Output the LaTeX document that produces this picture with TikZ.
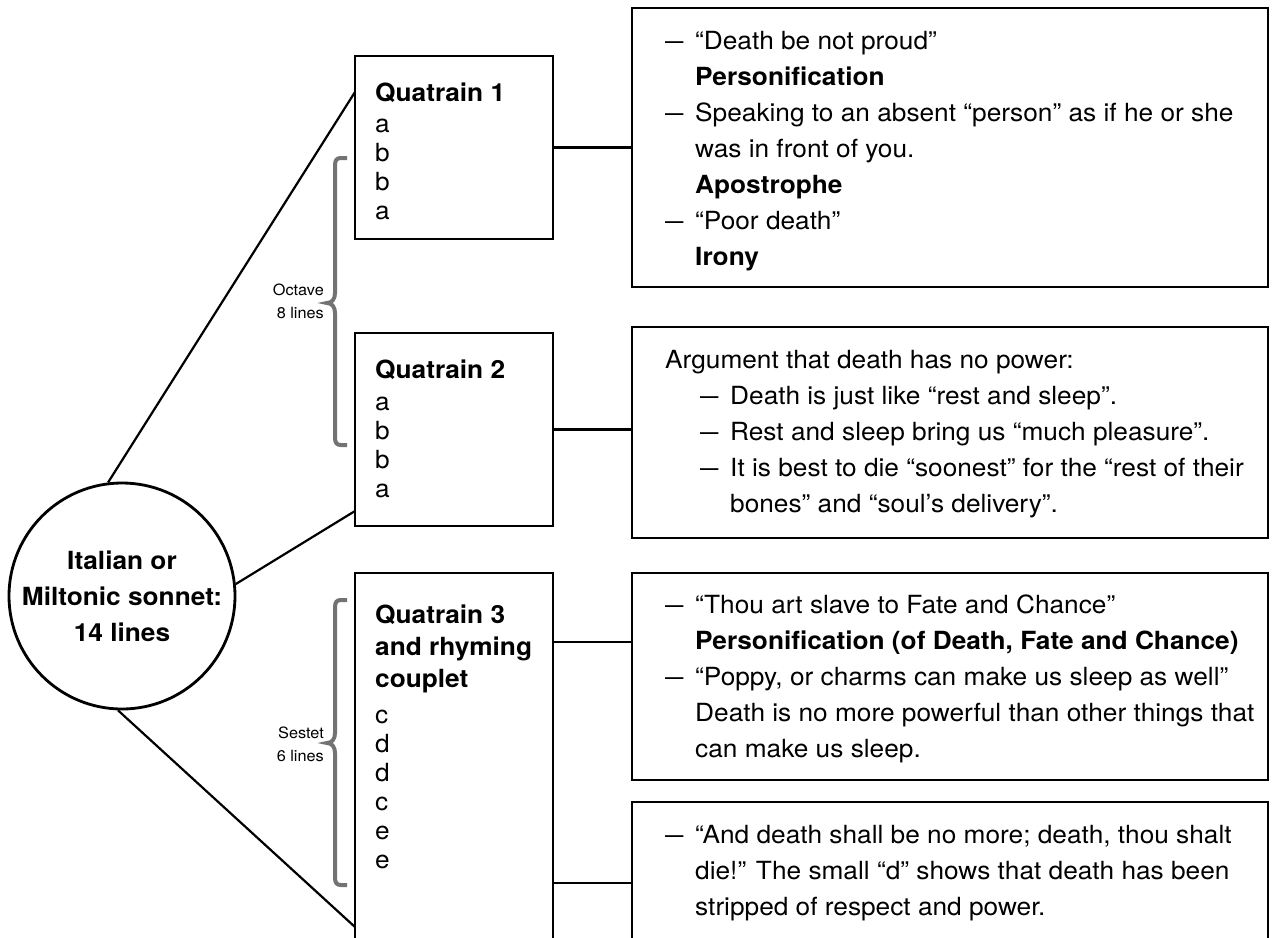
\documentclass[tikz,border=0pt]{standalone}
\usepackage{graphicx}
\usepackage{fontspec}
\setmainfont{TeX Gyre Heros}[FakeStretch=1.05]
\newcommand{\mydash}{\makebox[30pt][l]{\scalebox{0.7}[1]{—}}}
\newcommand{\myind}{\hspace*{30pt}}
\begin{document}
\begin{tikzpicture}[x=1pt,y=-1pt,
  box/.style={draw, line width=2.8pt, rectangle, inner sep=0pt},
  link/.style={line width=2.2pt},
  body/.style={anchor=north west, inner sep=0pt, align=left, font=\fontsize{25}{36}\selectfont},
  qtext/.style={anchor=north west, inner sep=0pt, align=left, font=\fontsize{25}{29}\selectfont},
  lab/.style={anchor=east, inner sep=0pt, align=right, font=\fontsize{15.5}{23}\selectfont},
  brc/.style={line width=4pt, draw=black!55, line cap=butt}]
\useasboundingbox (0,0) rectangle (1279,937);
\clip (0,0) rectangle (1279,937);

% quatrain boxes
\node[box, minimum width=198pt, minimum height=183pt] (q1) at (454,147.5) {};
\node[box, minimum width=198pt, minimum height=193pt] (q2) at (454,429.5) {};
\node[box, minimum width=198pt, minimum height=397pt] (q3) at (454,771.5) {};

% right boxes
\node[box, minimum width=636pt, minimum height=279pt] (r1) at (950,147.5) {};
\node[box, minimum width=636pt, minimum height=211pt] (r2) at (950,432.5) {};
\node[box, minimum width=636pt, minimum height=207pt] (r3) at (950,676.5) {};
\node[box, minimum width=636pt, minimum height=178pt] (r4) at (950,891) {};

% sonnet circle
\node[circle, draw, line width=2.8pt, minimum size=226pt, inner sep=0pt, align=center,
      font=\bfseries\fontsize{25}{36}\selectfont] (son) at (122,596) {Italian or\\Miltonic sonnet:\\14 lines};

% quatrain texts
\node[qtext] (t1) at (375,83) {\textbf{Quatrain 1}\\[2pt] a\\ b\\ b\\ a};
\node[qtext] (t2) at (375,360) {\textbf{Quatrain 2}\\[3pt] a\\ b\\ b\\ a};
\node[qtext] (t3) at (375,605) {\textbf{Quatrain 3}\\[3pt] \textbf{and rhyming}\\[3pt] \textbf{couplet}\\[7pt] c\\ d\\ d\\ c\\ e\\ e};

% right texts
\node[body] (b1) at (665,31) {\mydash“Death be not proud”\\
\myind\textbf{Personification}\\
\mydash Speaking to an absent “person” as if he or she\\
\myind was in front of you.\\
\myind\textbf{Apostrophe}\\
\mydash“Poor death”\\
\myind\textbf{Irony}};

\node[body] (b2) at (665,350) {Argument that death has no power:\\
\hspace*{35pt}\mydash Death is just like “rest and sleep”.\\
\hspace*{35pt}\mydash Rest and sleep bring us “much pleasure”.\\
\hspace*{35pt}\mydash It is best to die “soonest” for the “rest of their\\
\hspace*{35pt}\myind bones” and “soul’s delivery”.};

\node[body] (b3) at (665,595) {\mydash“Thou art slave to Fate and Chance”\\
\myind\textbf{Personification (of Death, Fate and Chance)}\\
\mydash“Poppy, or charms can make us sleep as well”\\
\myind Death is no more powerful than other things that\\
\myind can make us sleep.};

\node[body] (b4) at (665,825) {\mydash“And death shall be no more; death, thou shalt\\
\myind die!” The small “d” shows that death has been\\
\myind stripped of respect and power.};

% braces and labels
\draw[brc] (347,158) -- (341,158) .. controls (337,158) and (335,160) .. (335,165)
  -- (335,293) .. controls (335,299) and (332,303) .. (327,303)
  .. controls (332,303) and (335,307) .. (335,313)
  -- (335,438) .. controls (335,443) and (337,445) .. (341,445) -- (347,445);
\draw[brc] (347,600) -- (341,600) .. controls (337,600) and (335,602) .. (335,607)
  -- (335,733) .. controls (335,739) and (332,743) .. (327,743)
  .. controls (332,743) and (335,747) .. (335,753)
  -- (335,878) .. controls (335,883) and (337,885) .. (341,885) -- (347,885);
\node[lab] (oct) at (324,301) {Octave\\8 lines};
\node[lab] (ses) at (324,744) {Sestet\\6 lines};

% connectors from circle
\coordinate (q1in) at (355,92);
\coordinate (q2in) at (355,511);
\coordinate (q3in) at (355,927);
\draw[link] (son.97) -- (q1in);
\draw[link] (son.6) -- (q2in);
\draw[link] (son.-92) -- (q3in);

% connectors to right boxes
\draw[link] (q1.east) -- (q1.east -| r1.west);
\draw[link] (q2.east) -- (q2.east -| r2.west);
\coordinate (k3) at (553,642);
\draw[link] (k3) -- (k3 -| r3.west);
\coordinate (k4) at (553,883);
\draw[link] (k4) -- (k4 -| r4.west);
\end{tikzpicture}
\end{document}
